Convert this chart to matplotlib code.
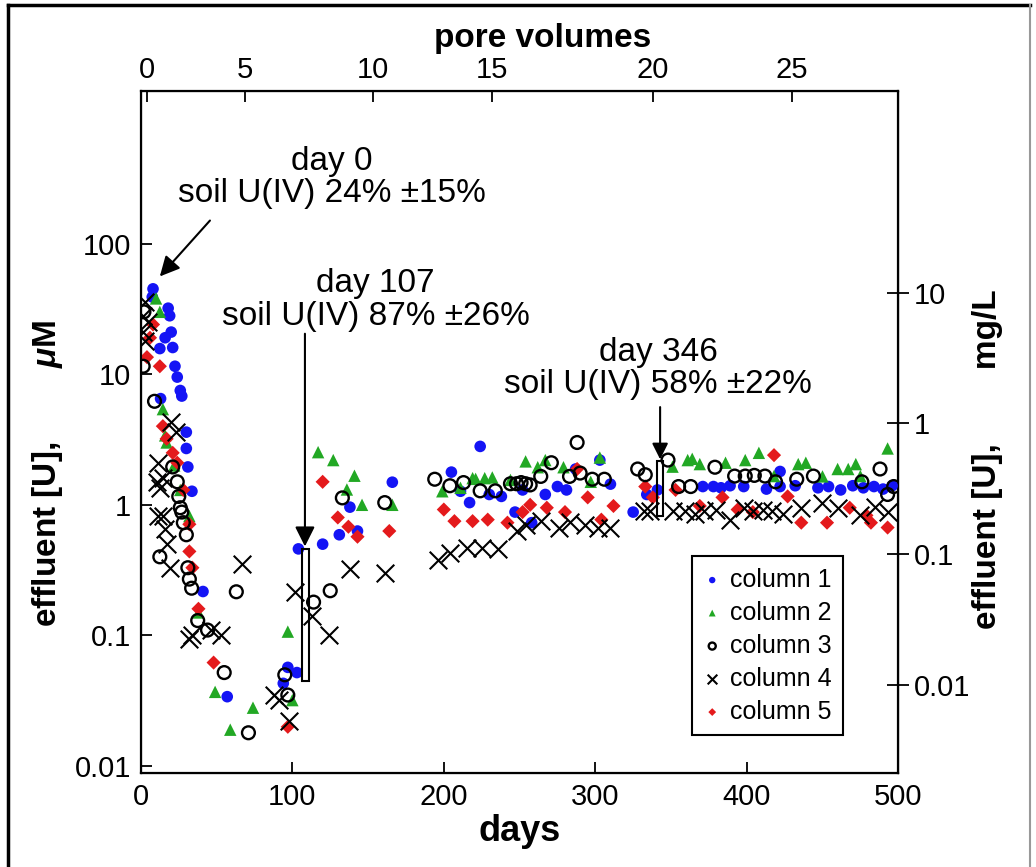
import matplotlib
matplotlib.use('Agg')
import matplotlib.pyplot as plt
from matplotlib.lines import Line2D
from matplotlib.patches import Rectangle
from matplotlib.ticker import NullLocator
import numpy as np

plt.rcParams['font.family'] = ['Liberation Sans', 'DejaVu Sans']
plt.rcParams['mathtext.fontset'] = 'custom'
plt.rcParams['mathtext.it'] = 'Liberation Sans:bold:italic'
plt.rcParams['mathtext.rm'] = 'Liberation Sans:bold'

# effluent uranium, days vs uM

days1 = [7.5, 8, 12.5, 13, 16, 18, 19, 20, 21, 22.5, 24, 26, 27, 30, 30, 31, 33.7, 41, 57,
         94, 97, 103, 104, 120, 131, 138, 143, 166, 205, 211, 217, 224, 230, 238, 247, 252,
         258, 267, 275, 281, 287, 303, 310, 325, 334, 341, 371, 378, 383, 389, 398, 413,
         422, 422, 432, 447, 454, 462, 470, 477, 484, 490, 496]
conc1 = [39, 45, 15.7, 6.5, 19, 32, 28, 21, 16, 11.5, 9.5, 7.5, 6.8, 3.6, 2.7, 1.95, 1.27, 0.217, 0.034,
         0.043, 0.057, 0.052, 0.46, 0.5, 0.59, 0.96, 0.63, 1.49, 1.78, 1.27, 1.04, 2.8, 1.2, 1.16, 0.88, 1.3,
         0.73, 1.2, 1.38, 1.3, 1.88, 2.2, 1.44, 0.88, 1.2, 1.3, 1.38, 1.38, 1.35, 1.4, 1.38, 1.32,
         1.8, 1.38, 1.4, 1.35, 1.38, 1.3, 1.4, 1.35, 1.38, 1.32, 1.4]

days2 = [10, 12.5, 14.5, 16, 17, 22, 26, 32, 38, 49, 59, 74, 97, 100, 117, 127, 136, 141, 146, 166,
         199, 211, 219, 221, 227, 232, 244, 254, 262, 267, 279, 297, 303, 351, 361, 364, 369, 386,
         399, 408, 418, 434, 439, 450, 460, 467, 472, 475, 493]
conc2 = [38, 30, 5.4, 3.4, 3.0, 2.0, 1.3, 0.82, 0.15, 0.037, 0.019, 0.028, 0.107, 0.032, 2.53, 2.2, 1.31, 1.67, 1.0, 1.0,
         1.27, 1.35, 1.6, 1.58, 1.6, 1.62, 1.55, 2.15, 1.94, 2.2, 1.94, 1.5, 2.3, 1.96, 2.2, 2.25, 2.05, 2.1,
         2.2, 2.5, 1.66, 2.05, 2.1, 1.65, 1.88, 1.88, 2.05, 1.66, 2.7]

days3 = [2, 1.5, 9, 12.5, 21, 24, 25, 26, 27, 28, 30, 31, 32, 33.5, 37.5, 44, 55, 63, 71, 95, 97,
         114, 125, 133, 161, 194, 204, 213, 224, 234, 244, 248, 251, 254, 257, 264, 271, 283, 288,
         290, 298, 306, 328, 333, 348, 355, 363, 379, 392, 399, 405, 412, 419, 433, 444, 476, 488,
         493, 497]
conc3 = [30, 11.5, 6.2, 0.4, 1.95, 1.5, 1.16, 0.95, 0.88, 0.73, 0.59, 0.33, 0.27, 0.23, 0.13, 0.11, 0.052, 0.216, 0.018, 0.05, 0.035,
         0.18, 0.22, 1.13, 1.04, 1.57, 1.4, 1.48, 1.28, 1.28, 1.45, 1.45, 1.48, 1.45, 1.42, 1.65, 2.1, 1.65, 3.0,
         1.75, 1.57, 1.57, 1.88, 1.7, 2.2, 1.38, 1.38, 1.94, 1.66, 1.66, 1.68, 1.66, 1.5, 1.57, 1.66, 1.5, 1.88,
         1.2, 1.38]

days4 = [1.5, 2.6, 1.5, 2.6, 5, 20, 23, 11, 14.5, 10.5, 12.5, 11, 14.5, 16, 17, 19, 32, 34, 46, 53,
         67, 88, 91, 98, 102, 113, 124, 138, 161, 196, 204, 215, 225, 236, 248, 254, 264, 276, 283,
         293, 302, 310, 332, 336, 351, 359, 366, 372, 380, 389, 398, 404, 411, 417, 424, 436, 450,
         460, 475, 485, 493]
conc4 = [28, 36, 21, 18, 25, 4.3, 3.6, 2.1, 1.6, 1.5, 1.35, 0.82, 0.82, 0.65, 0.5, 0.33, 0.094, 0.1, 0.11, 0.1,
         0.35, 0.035, 0.032, 0.022, 0.215, 0.14, 0.1, 0.32, 0.3, 0.38, 0.43, 0.47, 0.47, 0.46, 0.63, 0.7, 0.75, 0.67, 0.74,
         0.7, 0.66, 0.66, 0.89, 0.89, 0.89, 0.89, 0.85, 0.89, 0.92, 0.77, 0.95, 0.89, 0.92, 0.89, 0.85, 0.95, 1.03,
         0.95, 0.84, 0.97, 0.88]

days5 = [4, 6, 8, 12.5, 14.5, 17, 21, 24, 28, 32, 32, 34, 38, 48, 97, 120, 130, 137, 143, 164,
         200, 207, 219, 229, 242, 252, 257, 268, 280, 288, 295, 304, 312, 333, 338, 353, 369, 384,
         394, 404, 418, 427, 436, 453, 468, 479, 482, 493]
conc5 = [13.5, 19, 24, 11.5, 4, 3.2, 2.5, 2.1, 1.3, 0.71, 0.44, 0.33, 0.16, 0.062, 0.02, 1.5, 0.8, 0.68, 0.57, 0.63,
         0.92, 0.75, 0.75, 0.77, 0.73, 0.88, 1.0, 0.95, 0.88, 1.88, 1.14, 0.77, 0.98, 1.38, 1.14, 1.3, 0.98, 1.14,
         0.92, 0.88, 2.4, 1.16, 0.73, 0.73, 0.95, 0.83, 0.73, 0.67]

# top axis: pore volumes at matching days
pv_labels = ['0', '5', '10', '15', '20', '25']
pv_days = [4, 69, 153, 232, 338, 430]

ug_per_umol = 0.238  # uM -> mg/L

fig = plt.figure(figsize=(10.36, 8.67), dpi=100)
ax = fig.add_axes([0.136, 0.108, 0.731, 0.787])

ax.scatter(days1, conc1, marker='o', s=70, color='#1414f5', edgecolors='none', label='column 1', zorder=3)
ax.scatter(days2, conc2, marker='^', s=80, color='#22a824', edgecolors='none', label='column 2', zorder=3)
ax.scatter(days3, conc3, marker='o', s=85, facecolors='none', edgecolors='k', linewidths=1.7, label='column 3', zorder=4)
ax.scatter(days4, conc4, marker='x', s=160, color='k', linewidths=1.5, label='column 4', zorder=4)
ax.scatter(days5, conc5, marker='D', s=52, color='#e41a1c', edgecolors='none', label='column 5', zorder=3)

ax.set_yscale('log')
ax.set_xlim(0, 500)
ax.set_ylim(0.0088, 1470)
ax.set_xticks([0, 100, 200, 300, 400, 500])
ax.set_yticks([0.01, 0.1, 1, 10, 100])
ax.set_yticklabels(['0.01', '0.1', '1', '10', '100'])
ax.yaxis.set_minor_locator(NullLocator())
ax.tick_params(axis='both', direction='in', labelsize=21, length=8, width=1.3, pad=7)
for sp in ax.spines.values():
  sp.set_linewidth(1.6)

ax.set_xlabel('days', fontsize=26, fontweight='bold', labelpad=2)
ax.set_ylabel('effluent [U],        $\\mu$M', fontsize=24, fontweight='bold')
ax.yaxis.set_label_coords(-0.10, 0.44)

# top axis in pore volumes
top = ax.twiny()
top.set_xlim(ax.get_xlim())
top.set_xticks(pv_days)
top.set_xticklabels(pv_labels)
top.tick_params(axis='x', direction='in', labelsize=21, length=8, width=1.3, pad=5)
top.set_xlabel('pore volumes', fontsize=24, fontweight='bold')
top.xaxis.set_label_coords(0.53, 1.064)

# right axis in mg/L
right = ax.secondary_yaxis('right', functions=(lambda x: x * ug_per_umol, lambda x: x / ug_per_umol))
right.set_yticks([0.01, 0.1, 1, 10])
right.set_yticklabels(['0.01', '0.1', '1', '10'])
right.yaxis.set_minor_locator(NullLocator())
right.tick_params(axis='y', direction='inout', labelsize=21, length=16, width=1.3, pad=3)
right.set_ylabel('effluent [U],        mg/L', fontsize=24, fontweight='bold')
right.yaxis.set_label_coords(1.098, 0.46, transform=ax.transAxes)

# annotations
arrow = dict(arrowstyle='-|>', color='k', lw=1.5, mutation_scale=30, shrinkA=0, shrinkB=0)
ax.annotate('', xy=(12.5, 56), xytext=(45.6, 150), arrowprops=arrow)
ax.text(126, 320, 'day 0\nsoil U(IV) 24% ±15%', ha='center', va='center', fontsize=24, linespacing=1.05)

ax.annotate('', xy=(108.3, 0.48), xytext=(108.3, 20.4), arrowprops=arrow)
ax.text(155, 37, 'day 107\nsoil U(IV) 87% ±26%', ha='center', va='center', fontsize=24, linespacing=1.05)
ax.add_patch(Rectangle((106.4, 0.045), 4.6, 0.46 - 0.045, fill=False, ec='k', lw=1.5, zorder=5))

arrow2 = dict(arrow, mutation_scale=24)
ax.annotate('', xy=(342.8, 2.23), xytext=(342.8, 5.6), arrowprops=arrow2)
ax.text(341.5, 11, 'day 346\nsoil U(IV) 58% ±22%', ha='center', va='center', fontsize=24, linespacing=1.05)
ax.add_patch(Rectangle((340.8, 0.82), 4.0, 2.15 - 0.82, fill=False, ec='k', lw=1.5, zorder=5))

leg = ax.legend(loc='upper left', bbox_to_anchor=(0.728, 0.318), fontsize=18, frameon=True, fancybox=False,
                edgecolor='k', framealpha=1, markerscale=0.55, handlelength=0.7, handletextpad=0.35,
                labelspacing=0.36, borderpad=0.45, borderaxespad=0)
leg.get_frame().set_linewidth(1.5)

# scanned figure frame
fig.add_artist(Line2D([0.0077, 0.0077], [0, 0.994], transform=fig.transFigure, color='k', lw=2.5))
fig.add_artist(Line2D([0.0077, 0.994], [0.994, 0.994], transform=fig.transFigure, color='k', lw=2.5))
fig.add_artist(Line2D([0.994, 0.994], [0, 0.994], transform=fig.transFigure, color='0.6', lw=1.5))

fig.savefig('out.png', dpi=100)
